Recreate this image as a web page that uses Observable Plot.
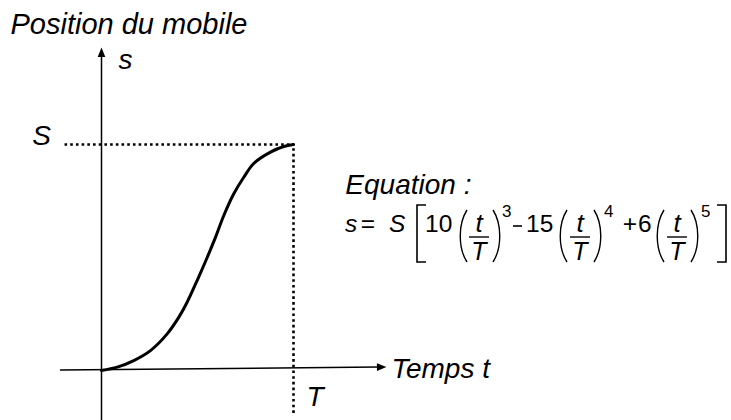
<!DOCTYPE html>
<html>
<head>
<meta charset="utf-8">
<script src="https://cdn.jsdelivr.net/npm/d3@7"></script>
<script src="https://cdn.jsdelivr.net/npm/@observablehq/plot@0.6"></script>
<style>
  body { margin: 0; background: #fff; }
  #chart { width: 731px; height: 420px; }
</style>
</head>
<body>
<div id="chart"></div>
<script>
// Traced motion profile: normalised time t/T and normalised position s/S
const timeRatio = [0, 0.082, 0.168, 0.255, 0.342, 0.403, 0.446, 0.498, 0.551, 0.594, 0.637, 0.689, 0.741, 0.793, 0.880, 0.949, 1];
const positionRatio = [0, 0.015, 0.044, 0.088, 0.162, 0.236, 0.302, 0.398, 0.501, 0.590, 0.686, 0.782, 0.855, 0.916, 0.966, 0.991, 1];

// Axis names and end markers
const yName = "s";
const xName = "Temps t";
const endPosition = "S";
const endTime = "T";
const title = "Position du mobile";
const eqTitle = "Equation :";

// Polynomial coefficients and exponents shown in the equation
const coefficients = ["10", "15", "6"];
const exponents = ["3", "4", "5"];

const profile = timeRatio.map((t, i) => ({t, s: positionRatio[i]}));

const FONT = "Liberation Sans, Arial, Helvetica, sans-serif";

// Filled arrow head, tip at the anchor, pointing up
const arrowHead = {
  draw(ctx) {
    ctx.moveTo(0, 0);
    ctx.lineTo(-3.8, 9.5);
    ctx.lineTo(3.8, 9.5);
    ctx.closePath();
  }
};

const dotted = {stroke: "black", strokeWidth: 2.6, strokeDasharray: "2.6,3.1"};
const label = {fontFamily: FONT, fontStyle: "italic", fontSize: 28, fill: "black", lineAnchor: "bottom"};

const chart = Plot.plot({
  width: 731,
  height: 420,
  margin: 0,
  style: {background: "white", overflow: "visible"},
  x: {domain: [0, 1], range: [101, 293], axis: null},
  y: {domain: [0, 1], range: [370, 144], axis: null},
  marks: [
    // dotted guides at s = S and t = T
    Plot.ruleY([1], {x1: -0.19, x2: 1, ...dotted}),
    Plot.ruleX([1], {y1: -0.19, y2: 1, ...dotted}),
    // axes
    Plot.line([[0, -0.23], [0, 1.39]], {stroke: "black", strokeWidth: 1.5}),
    Plot.line([[-0.2135, 0.002], [1.44, 0.0153]], {stroke: "black", strokeWidth: 1.5}),
    Plot.dot([[0, 1.429]], {symbol: arrowHead, fill: "black", stroke: "none", r: 1}),
    Plot.dot([[1.484, 0.0155]], {symbol: arrowHead, fill: "black", stroke: "none", r: 1, rotate: 89.4}),
    // position curve
    Plot.line(profile, {x: "t", y: "s", curve: "catmull-rom", stroke: "black", strokeWidth: 3}),
    // labels
    Plot.text([title], {x: -0.474, y: 1.491, text: d => d, textAnchor: "start", ...label, fontSize: 29}),
    Plot.text([yName], {x: 0.088, y: 1.332, text: d => d, textAnchor: "start", ...label}),
    Plot.text([endPosition], {x: -0.312, y: 0.996, text: d => d, textAnchor: "middle", ...label}),
    Plot.text([endTime], {x: 1.068, y: -0.155, text: d => d, textAnchor: "start", ...label}),
    Plot.text([xName], {x: 1.51, y: -0.031, text: d => d, textAnchor: "start", ...label}),
    Plot.text([eqTitle], {x: 1.27, y: 0.783, text: d => d, textAnchor: "start", ...label})
  ]
});

document.getElementById("chart").append(chart);

// Equation s = S [10 (t/T)^3 − 15 (t/T)^4 + 6 (t/T)^5]
const svg = d3.select(chart);
const eq = svg.append("g").attr("font-family", FONT).attr("fill", "black");
const base = 232, size = 24.5;

function txt(x, y, s, opts = {}) {
  eq.append("text")
    .attr("x", x).attr("y", y)
    .attr("font-size", opts.size || size)
    .attr("font-style", opts.italic ? "italic" : "normal")
    .attr("text-anchor", opts.anchor || "start")
    .text(s);
}
function stroke(d, w = 1.4) {
  eq.append("path").attr("d", d).attr("fill", "none").attr("stroke", "black").attr("stroke-width", w);
}
function paren(x0, left) {
  // thin tall parenthesis spanning y = 210..262, 8px wide
  const top = 210, bot = 262, w = 8;
  if (left) stroke(`M${x0 + w},${top} C${x0 - 1},${top + 14} ${x0 - 1},${bot - 14} ${x0 + w},${bot}`);
  else stroke(`M${x0},${top} C${x0 + w + 1},${top + 14} ${x0 + w + 1},${bot - 14} ${x0},${bot}`);
}
function bracket(x0, left) {
  const top = 205, bot = 262, w = 9;
  if (left) stroke(`M${x0 + w},${top} H${x0} V${bot} H${x0 + w}`, 1.6);
  else stroke(`M${x0},${top} H${x0 + w} V${bot} H${x0}`, 1.6);
}
function frac(cx) {
  txt(cx, base, "t", {italic: true, anchor: "middle", size: 26});
  stroke(`M${cx - 10},237 H${cx + 10}`, 1.4);
  txt(cx, 260, "T", {italic: true, anchor: "middle", size: 25});
}

txt(345, base, "s", {italic: true});
txt(368, base, "=", {anchor: "middle"});
txt(389, base, "S", {italic: true});
bracket(417, true);

txt(425, base, coefficients[0]);
paren(459, true);
frac(479);
paren(493, false);
txt(502, 217, exponents[0], {size: 17});

stroke("M513,226 H522", 1.6); // minus sign
txt(526, base, coefficients[1]);
paren(559, true);
frac(580);
paren(594, false);
txt(604, 217, exponents[1], {size: 17});

txt(630, base, "+", {anchor: "middle"});
txt(638, base, coefficients[2]);
paren(656, true);
frac(677);
paren(691, false);
txt(701, 217, exponents[2], {size: 17});
bracket(717, false);
</script>
</body>
</html>
